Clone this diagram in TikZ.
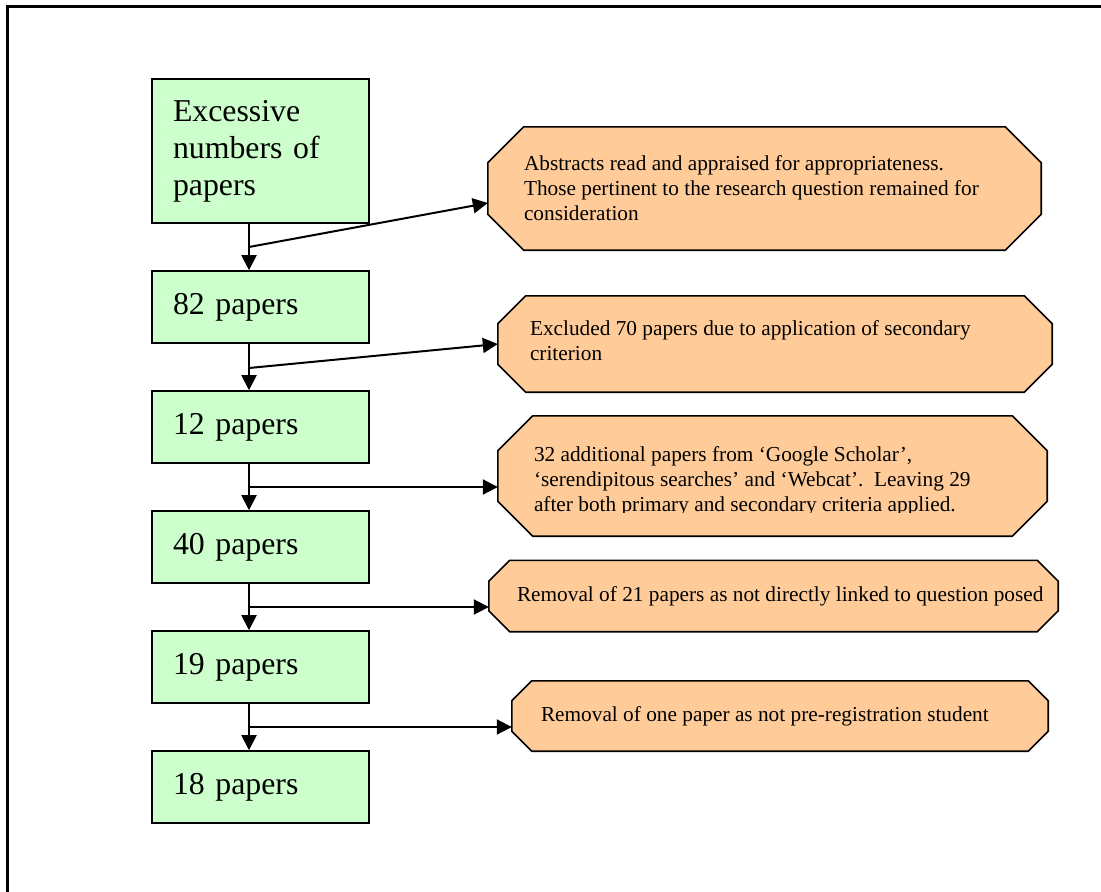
\documentclass[tikz,border=0pt]{standalone}
\usepackage{fontspec}
\setmainfont{Liberation Serif}
\usetikzlibrary{arrows.meta,calc}
\definecolor{stagegreen}{HTML}{CCFFCC}
\definecolor{noteorange}{HTML}{FFCC99}
\tikzset{
  stage/.style={draw=black, line width=1.6pt, fill=stagegreen, minimum width=217pt,
    text width=175pt, inner xsep=21pt, inner ysep=0pt, align=left,
    font=\fontsize{31.8}{37}\selectfont},
  notearea/.style={inner sep=0pt},
  octo/.style={draw=black, line width=1.6pt, fill=noteorange, line join=miter},
  notetext/.style={inner sep=0pt, anchor=west, align=left,
    font=\fontsize{21.3}{25}\selectfont},
  flow/.style={line width=2pt, -{Triangle[length=15pt,width=15pt]}},
  outline/.style={line width=2.2pt},
}
% octagon outline around a named rectangular area, with corner cut #2
\newcommand\octoframe[2]{%
  \path[octo] ($(#1.north west)+(#2,0)$) -- ($(#1.north east)+(-#2,0)$)
    -- ($(#1.north east)+(0,#2)$) -- ($(#1.south east)+(0,-#2)$)
    -- ($(#1.south east)+(-#2,0)$) -- ($(#1.south west)+(#2,0)$)
    -- ($(#1.south west)+(0,-#2)$) -- ($(#1.north west)+(0,#2)$) -- cycle;}
\begin{document}
\begin{tikzpicture}[x=1pt,y=-1pt]
\useasboundingbox (0,0) rectangle (1101,892);
\fill[white] (0,0) rectangle (1101,892);
% page frame (left and top edges)
\draw[outline] (7.5,892) -- (7.5,6.5) -- (1101,6.5);

% stages
\node[stage, minimum height=144pt] (s1) at (260.5,151) {Excessive\\numbers of\\papers};
\node[stage, minimum height=72pt] (s2) at (260.5,307) {82 papers};
\node[stage, minimum height=72pt] (s3) at (260.5,427) {12 papers};
\node[stage, minimum height=72pt] (s4) at (260.5,547) {40 papers};
\node[stage, minimum height=72pt] (s5) at (260.5,667) {19 papers};
\node[stage, minimum height=72pt] (s6) at (260.5,787) {18 papers};

% note areas and their octagon outlines
\node[notearea, minimum width=553pt, minimum height=123pt] (n1) at (764.5,188.5) {};
\node[notearea, minimum width=554pt, minimum height=96pt] (n2) at (775,344) {};
\node[notearea, minimum width=549pt, minimum height=120pt] (n3) at (772.5,476) {};
\node[notearea, minimum width=569pt, minimum height=71pt] (n4) at (773.5,596) {};
\node[notearea, minimum width=536pt, minimum height=70pt] (n5) at (780,716) {};
\octoframe{n1}{36}
\octoframe{n2}{28}
\octoframe{n3}{35}
\octoframe{n4}{21}
\octoframe{n5}{20}

% note texts
\node[notetext] (n1t) at ($(n1.west)+(36,0)$)
  {Abstracts read and appraised for appropriateness.\\Those pertinent to the research question remained for\\consideration};
\node[notetext] (n2t) at ($(n2.west)+(32,-3)$)
  {Excluded 70 papers due to application of secondary\\criterion};
\coordinate (cut3) at (0,512.5);
\begin{scope}
  \clip (n3.north west) rectangle (n3.east |- cut3);
  \node[notetext] (n3t) at ($(n3.west)+(36,5)$)
    {32 additional papers from ‘Google Scholar’,\\‘serendipitous searches’ and ‘Webcat’.\ \ Leaving 29\\after both primary and secondary criteria applied.};
\end{scope}
\node[notetext] (n4t) at ($(n4.west)+(28,0)$)
  {Removal of 21 papers as not directly linked to question posed};
\node[notetext] (n5t) at ($(n5.west)+(29,0)$)
  {Removal of one paper as not pre-registration student};

% main flow
\coordinate (spine) at (249,0);
\draw[flow] (s1.south -| spine) -- (s2.north -| spine);
\draw[flow] (s2.south -| spine) -- (s3.north -| spine);
\draw[flow] (s3.south -| spine) -- (s4.north -| spine);
\draw[flow] (s4.south -| spine) -- (s5.north -| spine);
\draw[flow] (s5.south -| spine) -- (s6.north -| spine);

% branches to the notes
\coordinate (j1) at (249,247);
\coordinate (j2) at (249,368);
\coordinate (j3) at (249,487);
\coordinate (j4) at (249,607);
\coordinate (j5) at (249,727);
\coordinate (t1) at ($(n1.west)+(0,14.5)$);
\draw[flow] (j1) -- (t1);
\draw[flow] (j2) -- (n2.west);
\draw[flow] (j3) -- (j3 -| n3.west);
\draw[flow] (j4) -- (j4 -| n4.west);
\draw[flow] (j5) -- (j5 -| n5.west);
\end{tikzpicture}
\end{document}
